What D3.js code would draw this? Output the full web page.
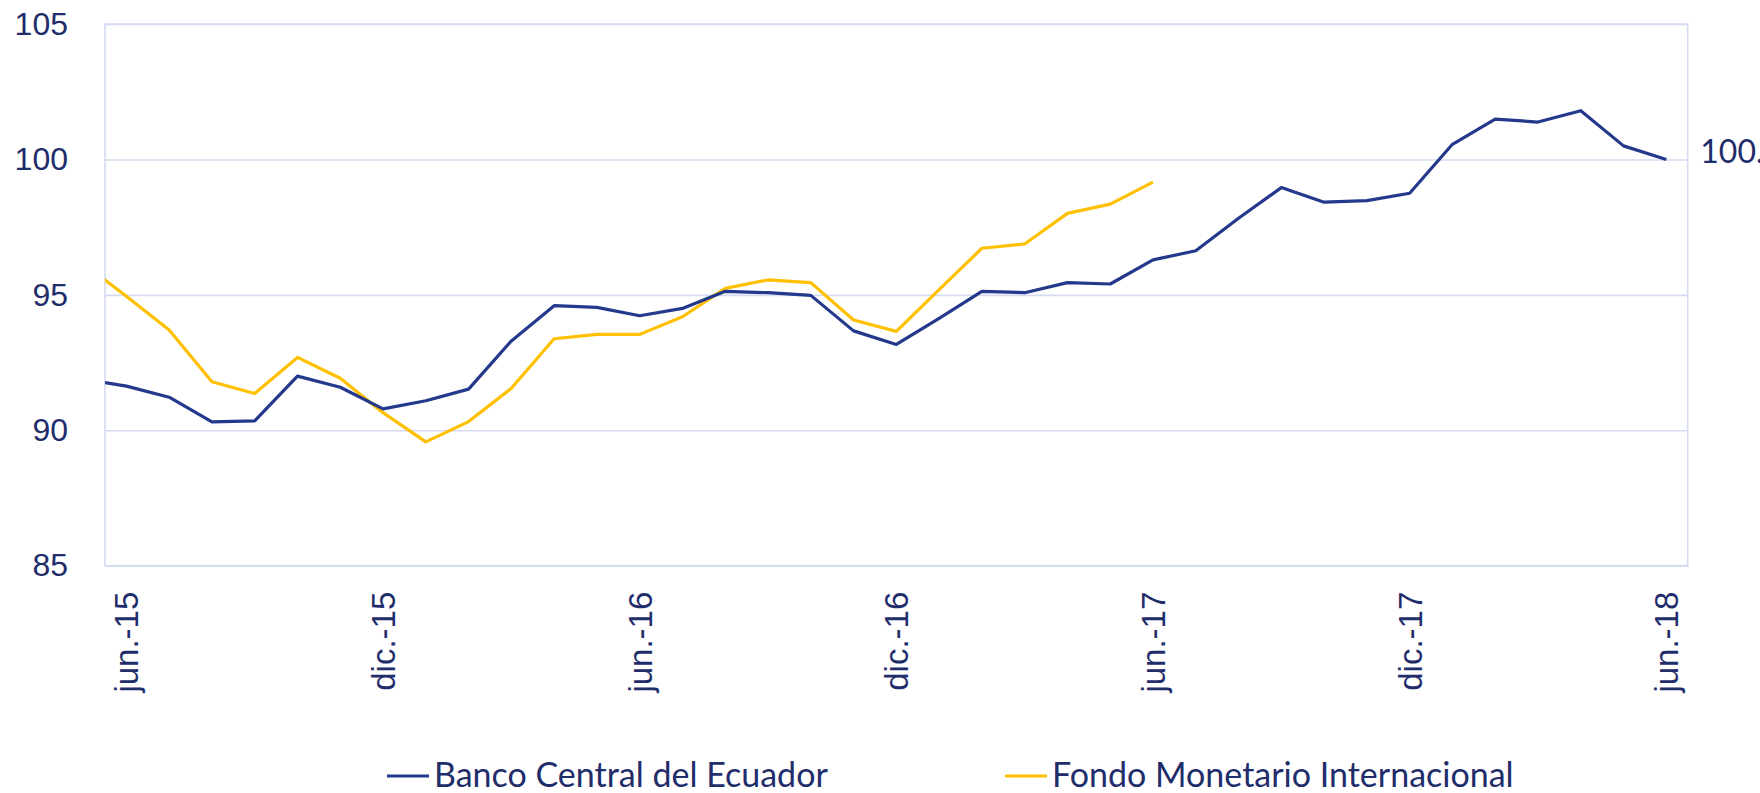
<!DOCTYPE html>
<html>
<head>
<meta charset="utf-8">
<script src="https://cdn.jsdelivr.net/npm/d3@7"></script>
<style>
  body { margin: 0; background: #fff; }
  svg { display: block; font-family: Lato, "Noto Sans", sans-serif; }
</style>
</head>
<body>
<svg class="chart" width="1760" height="793"></svg>
<script>
// months (may.-15 sits just left of the plot and is clipped, like the source)
let months = ['may.-15', 'jun.-15', 'jul.-15', 'ago.-15', 'sep.-15', 'oct.-15', 'nov.-15', 'dic.-15',
              'ene.-16', 'feb.-16', 'mar.-16', 'abr.-16', 'may.-16', 'jun.-16', 'jul.-16', 'ago.-16',
              'sep.-16', 'oct.-16', 'nov.-16', 'dic.-16', 'ene.-17', 'feb.-17', 'mar.-17', 'abr.-17',
              'may.-17', 'jun.-17', 'jul.-17', 'ago.-17', 'sep.-17', 'oct.-17', 'nov.-17', 'dic.-17',
              'ene.-18', 'feb.-18', 'mar.-18', 'abr.-18', 'may.-18', 'jun.-18'];

let bceValues = [91.88, 91.63, 91.22, 90.31, 90.35, 92.00, 91.59, 90.79,
                 91.09, 91.52, 93.30, 94.60, 94.54, 94.23, 94.50, 95.13,
                 95.08, 94.98, 93.67, 93.17, 94.13, 95.13, 95.08, 95.45,
                 95.40, 96.29, 96.63, 97.83, 98.96, 98.42, 98.48, 98.75,
                 100.56, 101.49, 101.38, 101.80, 100.50, 100.00];

let fmiValues = [96.15, 94.95, 93.70, 91.79, 91.36, 92.69, 91.92, 90.65,
                 89.57, 90.32, 91.55, 93.38, 93.54, 93.54, 94.19, 95.24,
                 95.55, 95.45, 94.07, 93.65, 95.19, 96.72, 96.88, 98.01,
                 98.35, 99.16];

let tickLabels = ['jun.-15', 'dic.-15', 'jun.-16', 'dic.-16', 'jun.-17', 'dic.-17', 'jun.-18'];
let yTicks = [85, 90, 95, 100, 105];
let seriesNames = ['Banco Central del Ecuador', 'Fondo Monetario Internacional'];

let navy = '#1f2d6b',
    blue = '#24398c',
    gold = '#ffc000',
    grid = '#d5dbf1';

let marginLeft = 105,
    marginTop = 24,
    plotWidth = 1582.7,
    plotHeight = 541.7;

let svg = d3.select('.chart');

// first band (may.-15) is outside, jun.-15 centred in the first visible band
let x = d3.scaleLinear()
  .domain([0.5, months.length - 0.5])
  .range([0, plotWidth]);

let y = d3.scaleLinear()
  .domain([85, 105])
  .range([plotHeight, 0]);

svg.append('defs')
  .append('clipPath')
  .attr('id', 'plot-clip')
  .append('rect')
  .attr('width', plotWidth)
  .attr('height', plotHeight);

let g = svg.append('g')
  .attr('transform', 'translate(' + marginLeft + ',' + marginTop + ')');

// gridlines + y labels
let yAxis = d3.axisLeft(y)
  .tickValues(yTicks)
  .tickSize(-plotWidth)
  .tickPadding(37);

g.append('g')
  .attr('class', 'y-axis')
  .call(yAxis)
  .call(function (sel) {
    sel.select('.domain').remove();
    sel.selectAll('line').attr('stroke', grid).attr('stroke-width', 1.6);
    sel.selectAll('text')
      .attr('fill', navy)
      .style('font-size', '32px');
  });

// plot border
g.append('rect')
  .attr('width', plotWidth)
  .attr('height', plotHeight)
  .attr('fill', 'none')
  .attr('stroke', grid)
  .attr('stroke-width', 1.6);

// x labels every six months
let xAxis = d3.axisBottom(x)
  .tickValues(tickLabels.map(function (d) { return months.indexOf(d); }))
  .tickFormat(function (i) { return months[i]; })
  .tickSize(0);

g.append('g')
  .attr('class', 'x-axis')
  .attr('transform', 'translate(0,' + plotHeight + ')')
  .call(xAxis)
  .call(function (sel) {
    sel.select('.domain').remove();
    sel.selectAll('text')
      .attr('fill', navy)
      .style('font-size', '33px')
      .attr('text-anchor', 'end')
      .attr('transform', 'rotate(-90)')
      .attr('x', -26)
      .attr('y', 0)
      .attr('dy', '0.35em')
      .attr('dx', 0);
  });

let line = d3.line()
  .defined(function (d) { return d != null; })
  .x(function (d, i) { return x(i); })
  .y(function (d) { return y(d); });

let lines = g.append('g').attr('clip-path', 'url(#plot-clip)');

lines.append('path')
  .datum(fmiValues)
  .attr('fill', 'none')
  .attr('stroke', gold)
  .attr('stroke-width', 3.2)
  .attr('stroke-linejoin', 'round')
  .attr('d', line);

lines.append('path')
  .datum(bceValues)
  .attr('fill', 'none')
  .attr('stroke', blue)
  .attr('stroke-width', 3.2)
  .attr('stroke-linejoin', 'round')
  .attr('d', line);

// data label on the last point (runs off the right edge, as in the source)
let last = bceValues.length - 1;
g.append('text')
  .attr('x', x(last) + 34)
  .attr('y', y(bceValues[last]) - 8)
  .attr('dy', '0.35em')
  .attr('fill', navy)
  .style('font-size', '32px')
  .text(d3.format('.1f')(bceValues[last]));

// legend
let legendItems = [
  {name: seriesNames[0], color: blue, x: 387},
  {name: seriesNames[1], color: gold, x: 1005}
];

let legend = svg.append('g').attr('class', 'legend');

legendItems.forEach(function (d) {
  legend.append('line')
    .attr('x1', d.x)
    .attr('x2', d.x + 42)
    .attr('y1', 776)
    .attr('y2', 776)
    .attr('stroke', d.color)
    .attr('stroke-width', 3.2);
  legend.append('text')
    .attr('x', d.x + 47)
    .attr('y', 776)
    .attr('dy', '0.32em')
    .attr('fill', navy)
    .style('font-size', '34px')
    .text(d.name);
});
</script>
</body>
</html>
